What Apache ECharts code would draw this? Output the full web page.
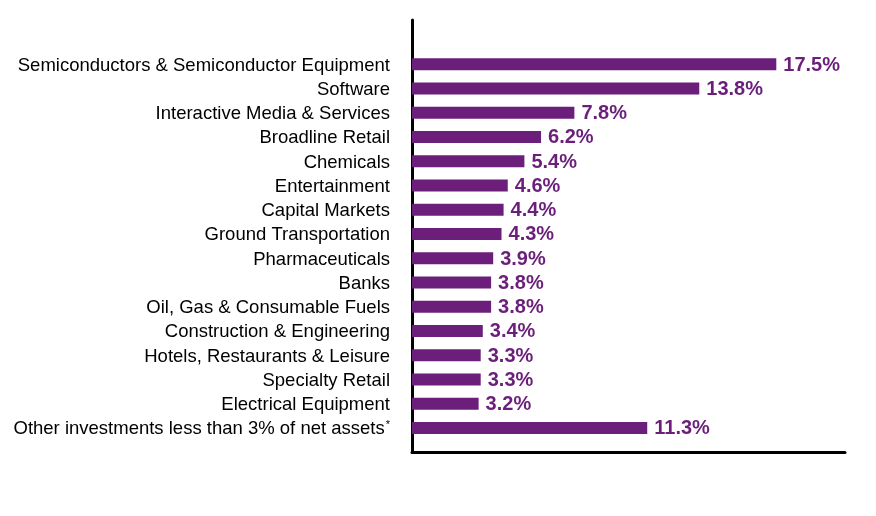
<!DOCTYPE html>
<html><head><meta charset="utf-8">
<script src="https://cdn.jsdelivr.net/npm/echarts@6/dist/echarts.min.js"></script>
<style>html,body{margin:0;padding:0;background:#fff}#c{width:876px;height:516px}</style>
</head><body><div id="c"></div>
<script>
const categories = [
  "Semiconductors & Semiconductor Equipment",
  "Software",
  "Interactive Media & Services",
  "Broadline Retail",
  "Chemicals",
  "Entertainment",
  "Capital Markets",
  "Ground Transportation",
  "Pharmaceuticals",
  "Banks",
  "Oil, Gas & Consumable Fuels",
  "Construction & Engineering",
  "Hotels, Restaurants & Leisure",
  "Specialty Retail",
  "Electrical Equipment",
  "Other investments less than 3% of net assets*"
];
const values = [17.5, 13.8, 7.8, 6.2, 5.4, 4.6, 4.4, 4.3, 3.9, 3.8, 3.8, 3.4, 3.3, 3.3, 3.2, 11.3];
const purple = '#6b1f7b';
const chart = echarts.init(document.getElementById('c'), null, {renderer: 'canvas'});
const AXMAX = 20.8;
const FONT = 'Liberation Sans, Arial, sans-serif';
chart.setOption({
  animation: false,
  grid: [
    {left: 412, top: 52, width: 433, height: 388, containLabel: false},
    {left: 412, top: 20, width: 433, height: 432, containLabel: false}
  ],
  xAxis: [
    {gridIndex: 0, type: 'value', min: 0, max: AXMAX, show: false},
    {gridIndex: 1, type: 'value', min: 0, max: AXMAX, axisLine: {show: true, lineStyle: {color: '#000', width: 3}},
     axisTick: {show: false}, axisLabel: {show: false}, splitLine: {show: false}}
  ],
  yAxis: [
    {gridIndex: 0, type: 'category', data: categories, inverse: true,
     axisLine: {show: false}, axisTick: {show: false}, splitLine: {show: false},
     axisLabel: {interval: 0, hideOverlap: false, margin: 22, color: '#000', fontSize: 18.5, fontFamily: FONT, padding: [3, 0, 0, 0],
       formatter: function (v) { return v.endsWith('*') ? v.slice(0, -1) + '{sup|*}' : v; },
       rich: {sup: {fontSize: 11, verticalAlign: 'top', padding: [0, 0, 9, 1], color: '#000', fontFamily: FONT}}}},
    {gridIndex: 1, type: 'value', min: 0, max: 1,
     axisLine: {show: true, onZero: false, lineStyle: {color: '#000', width: 3}},
     axisTick: {show: false}, axisLabel: {show: false}, splitLine: {show: false}}
  ],
  series: [{
    type: 'bar', xAxisIndex: 0, yAxisIndex: 0, data: values, barWidth: 12,
    itemStyle: {color: purple},
    label: {show: true, position: 'right', distance: 7, offset: [0, 1], color: purple, fontWeight: 'bold', fontSize: 20,
      fontFamily: FONT, formatter: p => p.value.toFixed(1) + '%'}
  }]
});
</script></body></html>
